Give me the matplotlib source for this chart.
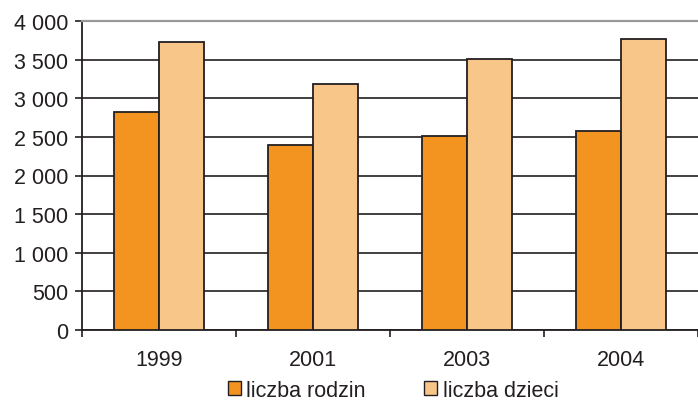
import matplotlib
matplotlib.use("Agg")
import matplotlib.pyplot as plt
from matplotlib.patches import Patch
from matplotlib.ticker import FuncFormatter, FixedLocator

years = ["1999", "2001", "2003", "2004"]
liczba_rodzin = [2816, 2400, 2505, 2580]
liczba_dzieci = [3734, 3180, 3508, 3764]

ORANGE = "#F39320"
LIGHT = "#F9C68A"
DARK = "#231F20"
FS = 15.5

plt.rcParams["font.family"] = ["Liberation Sans", "DejaVu Sans"]

fig = plt.figure(figsize=(6.98, 4.02), dpi=100)
ax = fig.add_axes([82 / 698, 71 / 402, 616 / 698, 309 / 402])

x = list(range(len(years)))
width = 0.292
ax.bar([i - width / 2 for i in x], liczba_rodzin, width, color=ORANGE,
       edgecolor=DARK, linewidth=1.3, zorder=3)
ax.bar([i + width / 2 for i in x], liczba_dzieci, width, color=LIGHT,
       edgecolor=DARK, linewidth=1.3, zorder=3)

ax.set_xlim(-0.5, len(years) - 0.5)
ax.set_ylim(0, 4000)
ax.set_yticks(range(0, 4001, 500))
ax.yaxis.set_major_formatter(
    FuncFormatter(lambda v, _: f"{int(v):,}".replace(",", " ")))
ax.grid(axis="y", color=DARK, linewidth=1.2, zorder=0)

# group separators as major ticks, year labels as minor ticks at the centres
ax.xaxis.set_major_locator(FixedLocator([i + 0.5 for i in range(-1, len(years))]))
ax.xaxis.set_major_formatter(FuncFormatter(lambda v, _: ""))
ax.xaxis.set_minor_locator(FixedLocator(x))
ax.set_xticklabels(years, minor=True)
ax.tick_params(axis="x", which="minor", length=0, pad=14, labelsize=FS)
ax.tick_params(axis="x", which="major", length=5, width=1.2, color=DARK)
ax.tick_params(axis="y", length=5, width=1.2, color=DARK, labelsize=FS,
               pad=5, labelcolor=DARK)
ax.tick_params(axis="x", labelcolor=DARK, which="both")

for side in ["left", "bottom"]:
    ax.spines[side].set_color(DARK)
    ax.spines[side].set_linewidth(1.3)
ax.spines["right"].set_visible(False)
ax.spines["top"].set_color("#999999")
ax.spines["top"].set_linewidth(1.6)

handles = [Patch(facecolor=ORANGE, edgecolor=DARK, label="liczba rodzin"),
           Patch(facecolor=LIGHT, edgecolor=DARK, label="liczba dzieci")]
fig.legend(handles=handles, loc="center", bbox_to_anchor=(393 / 698, 10.5 / 402),
           ncol=2, frameon=False, fontsize=FS, handlelength=0.62,
           handleheight=0.62, handletextpad=0.25, columnspacing=2.7,
           labelcolor=DARK, borderpad=0)

fig.savefig("out.png", dpi=100)
